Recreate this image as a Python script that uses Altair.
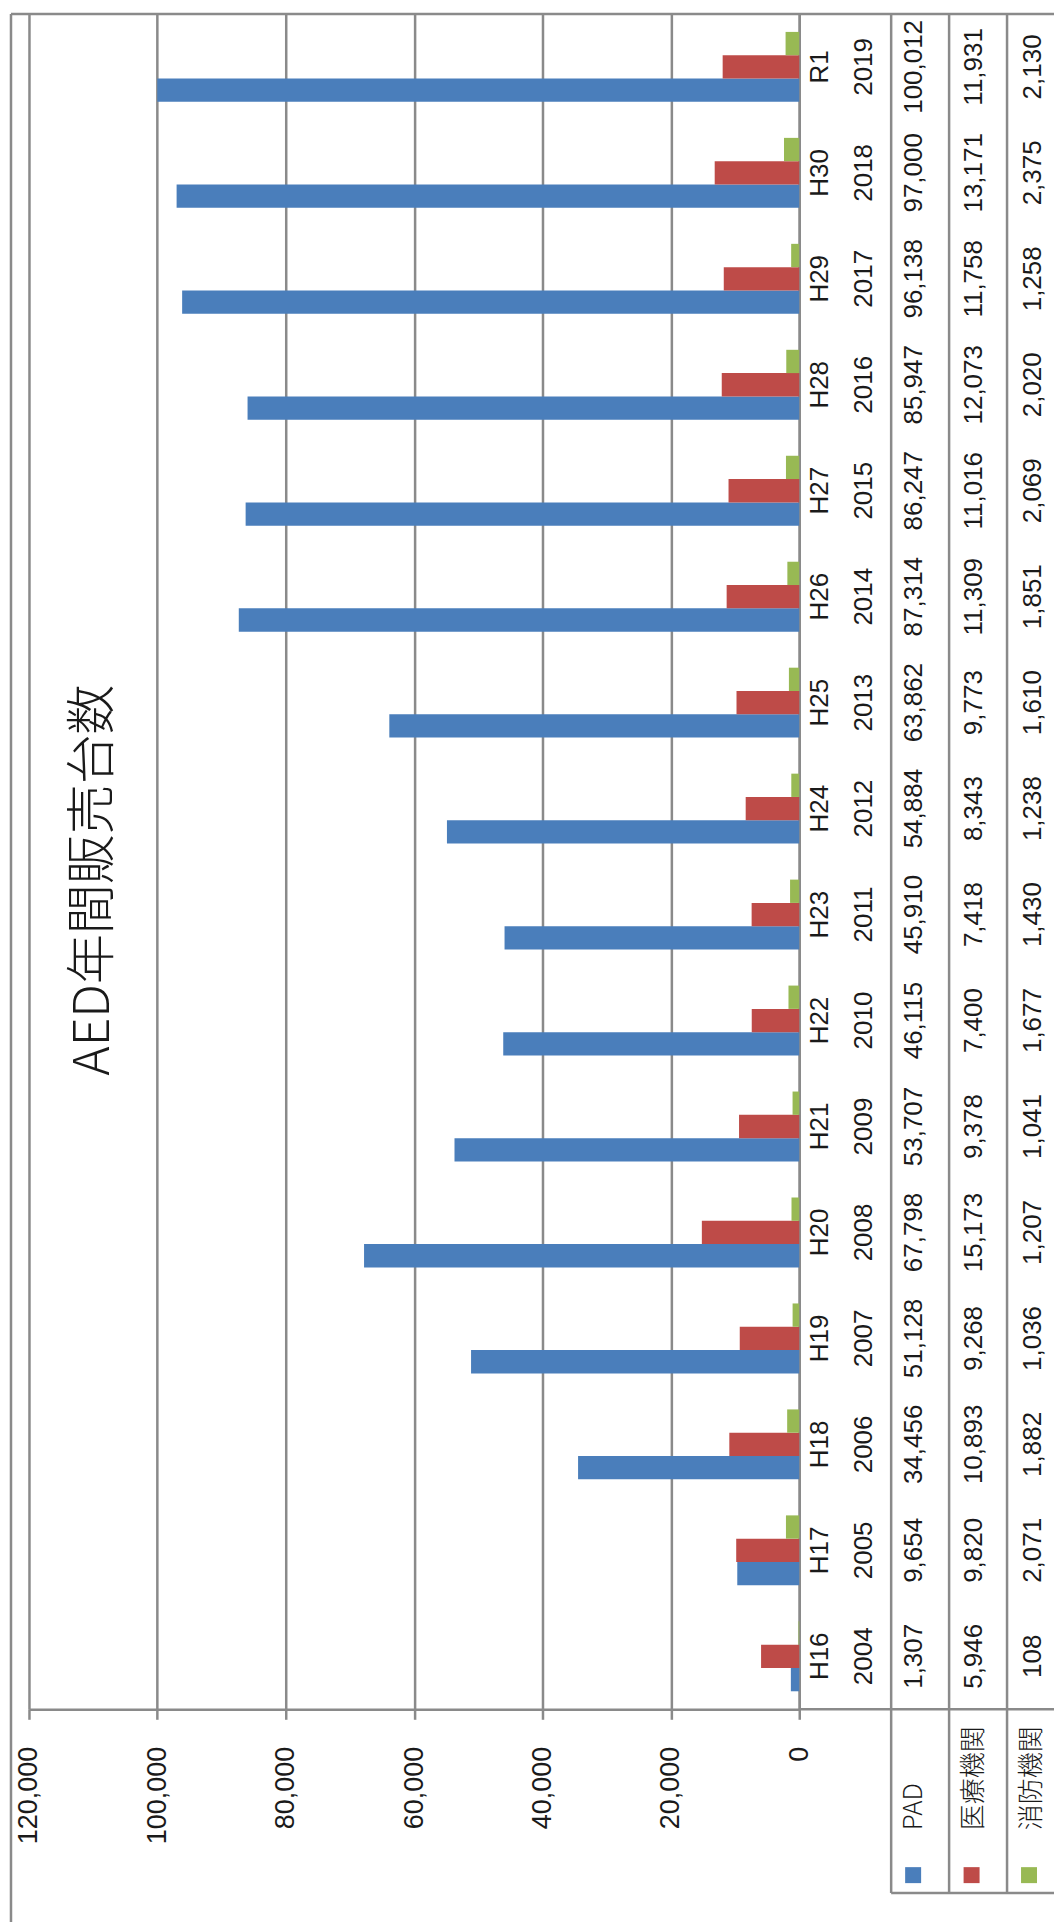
import altair as alt
import pandas as pd

# ---- data ----
years = [2004, 2005, 2006, 2007, 2008, 2009, 2010, 2011, 2012, 2013, 2014, 2015, 2016, 2017, 2018, 2019]
wareki = ["H16", "H17", "H18", "H19", "H20", "H21", "H22", "H23", "H24", "H25", "H26", "H27", "H28", "H29", "H30", "R1"]
pad = [1307, 9654, 34456, 51128, 67798, 53707, 46115, 45910, 54884, 63862, 87314, 86247, 85947, 96138, 97000, 100012]
iryo = [5946, 9820, 10893, 9268, 15173, 9378, 7400, 7418, 8343, 9773, 11309, 11016, 12073, 11758, 13171, 11931]
shobo = [108, 2071, 1882, 1036, 1207, 1041, 1677, 1430, 1238, 1610, 1851, 2069, 2020, 1258, 2375, 2130]
series = ["PAD", "医療機関", "消防機関"]
colors = ["#4A7EBB", "#BE4B48", "#98B954"]
ticks = [0, 20000, 40000, 60000, 80000, 100000, 120000]
title_text = "AED年間販売台数"

# ---- tables built from the arrays ----
long_rows = []
for i, y in enumerate(years):
    for s, vals in zip(series, [pad, iryo, shobo]):
        long_rows.append({"year": str(y), "series": s, "value": vals[i]})
df_long = pd.DataFrame(long_rows)

df_wide = pd.DataFrame({
    "year": [str(y) for y in years],
    "wareki": wareki,
    "PAD": [f"{v:,}" for v in pad],
    "医療機関": [f"{v:,}" for v in iryo],
    "消防機関": [f"{v:,}" for v in shobo],
})
df_series = pd.DataFrame({"series": series})

# ---- layout (pixels, relative to plot area) ----
W, H = 771, 1697
GRID = "#8a8a8a"
LW = 2.5
TXT = "#1a1a1a"
year_order = [str(y) for y in reversed(years)]

y_enc = alt.Y("year:N", sort=year_order,
              scale=alt.Scale(paddingInner=0.34, paddingOuter=0.17),
              axis=alt.Axis(orient="right", labels=False, ticks=False, title=None,
                            grid=False, domain=True, domainColor=GRID, domainWidth=LW))
color_enc = alt.Color("series:N", scale=alt.Scale(domain=series, range=colors), legend=None)

bars = alt.Chart(df_long).mark_bar().encode(
    x=alt.X("value:Q",
            scale=alt.Scale(domain=[0, 120000], reverse=True, nice=False),
            axis=alt.Axis(values=ticks, format=",d", labelAngle=270, labelFontSize=27,
                          labelFont="Liberation Sans", labelColor=TXT, labelPadding=27,
                          tickSize=10, tickColor=GRID, tickWidth=LW,
                          domainColor=GRID, domainWidth=LW,
                          grid=True, gridColor=GRID, gridWidth=LW, title=None)),
    y=y_enc,
    yOffset=alt.YOffset("series:N", sort=["消防機関", "医療機関", "PAD"]),
    color=color_enc,
)

layers = [bars]

# table body text columns
col_x = {"wareki": 792, "year": 836, "PAD": 886, "医療機関": 946, "消防機関": 1005}
for field, xpos in col_x.items():
    layers.append(
        alt.Chart(df_wide).mark_text(angle=270, align="center", baseline="middle",
                                     fontSize=26, font="Liberation Sans", color=TXT).encode(
            x=alt.value(xpos), y=alt.Y("year:N", sort=year_order), text=alt.Text(f"{field}:N"))
    )

# header row texts and legend squares
hdr_x = {"PAD": 886, "医療機関": 946, "消防機関": 1004}
sq_x = {"PAD": 885, "医療機関": 943.5, "消防機関": 1001}
for s in series:
    sub = df_series[df_series["series"] == s]
    layers.append(
        alt.Chart(sub).mark_text(angle=270, align="left", baseline="middle",
                                 fontSize=26, font="Noto Sans CJK JP", fontWeight=300,
                                 color=TXT).encode(
            x=alt.value(hdr_x[s]), y=alt.value(1818), text="series:N")
    )
    layers.append(
        alt.Chart(sub).mark_square(size=256, opacity=1, filled=True).encode(
            x=alt.value(sq_x[s]), y=alt.value(1863), color=color_enc)
    )

# table grid lines and chart frame
rule_base = alt.Chart(df_series.head(1))
for xv in [863, 921, 979]:
    layers.append(rule_base.mark_rule(color=GRID, strokeWidth=LW).encode(
        x=alt.value(xv), y=alt.value(0), y2=alt.value(1881)))
layers.append(rule_base.mark_rule(color=GRID, strokeWidth=LW).encode(
    x=alt.value(863), x2=alt.value(1026), y=alt.value(1881)))
layers.append(rule_base.mark_rule(color=GRID, strokeWidth=LW).encode(
    x=alt.value(771), x2=alt.value(1026), y=alt.value(H)))
# frame
layers.append(rule_base.mark_rule(color=GRID, strokeWidth=LW).encode(
    x=alt.value(-18), x2=alt.value(1026), y=alt.value(0)))
layers.append(rule_base.mark_rule(color=GRID, strokeWidth=LW).encode(
    x=alt.value(-18), y=alt.value(0), y2=alt.value(1910)))

# title
layers.append(
    alt.Chart(pd.DataFrame({"t": [title_text]})).mark_text(
        angle=270, align="center", baseline="middle", fontSize=50, fontWeight=300,
        font="Noto Sans CJK JP", color=TXT).encode(
        x=alt.value(65), y=alt.value(867), text="t:N")
)

chart = alt.layer(*layers).properties(
    width=W, height=H,
    padding={"left": 9, "top": 11, "right": 0, "bottom": 0},
).configure_view(stroke=None).configure(background="white")

chart.save("out.html", embed_options={"renderer": "svg", "actions": False})
